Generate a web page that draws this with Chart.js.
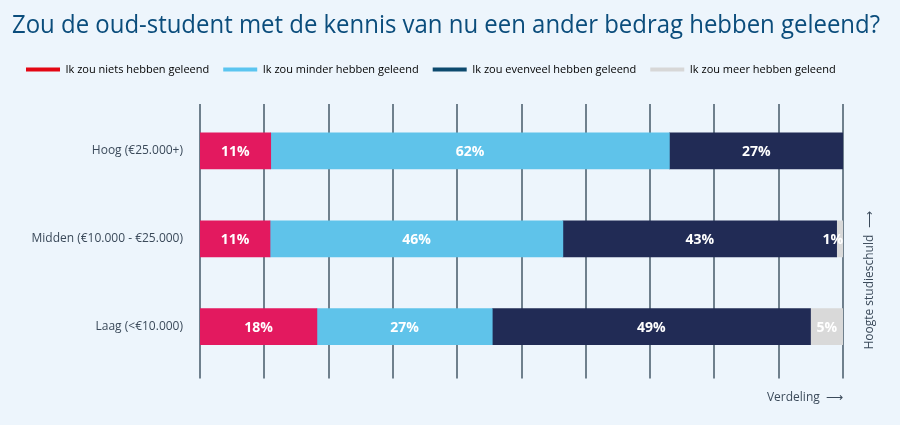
<!DOCTYPE html>
<html>
<head>
<meta charset="utf-8">
<script src="https://cdn.jsdelivr.net/npm/chart.js@4"></script>
<style>
  body { margin: 0; background: #edf5fc; }
  canvas { display: block; }
</style>
</head>
<body>
<canvas id="myChart" width="900" height="425"></canvas>
<script>

var categories = ["Hoog (€25.000+)", "Midden (€10.000 - €25.000)", "Laag (<€10.000)"];
var seriesNames = ["Ik zou niets hebben geleend", "Ik zou minder hebben geleend", "Ik zou evenveel hebben geleend", "Ik zou meer hebben geleend"];
var niets = [11, 11, 18];
var minder = [62, 46, 27];
var evenveel = [27, 43, 49];
var meer = [0, 1, 5];

var barColors = ["#e3195f", "#5fc3ea", "#212b55", "#d9d9d9"];
var legendColors = ["#e30613", "#5bc5f0", "#0d4a6e", "#d7d7d7"];

var series = [niets, minder, evenveel, meer];

// each row is scaled to fill the full bar
var totals = categories.map(function(c, i){
  return series.reduce(function(s, arr){ return s + arr[i] }, 0)
})

var datasets = series.map(function(arr, k){
  return {
    label: seriesNames[k],
    backgroundColor: barColors[k],
    borderWidth: 0,
    barThickness: 36,
    raw: arr,
    data: arr.map(function(v, i){ return v / totals[i] * 100 })
  }
})

var gridLines = {
  id: 'gridLines',
  beforeDatasetsDraw: function(chart){
    var ctx = chart.ctx, x = chart.scales.x, a = chart.chartArea
    ctx.save()
    ctx.strokeStyle = '#6f808d'
    ctx.lineWidth = 2
    x.ticks.forEach(function(t){
      var px = Math.round(x.getPixelForValue(t.value))
      ctx.beginPath()
      ctx.moveTo(px, a.top - 3)
      ctx.lineTo(px, a.bottom + 8)
      ctx.stroke()
    })
    ctx.restore()
  }
}

var barLabels = {
  id: 'barLabels',
  afterDatasetsDraw: function(chart){
    var ctx = chart.ctx, a = chart.chartArea
    ctx.save()
    ctx.font = 'bold 14px "Open Sans", sans-serif'
    ctx.fillStyle = '#ffffff'
    ctx.textAlign = 'center'
    ctx.textBaseline = 'middle'
    chart.data.datasets.forEach(function(ds, k){
      chart.getDatasetMeta(k).data.forEach(function(el, i){
        var v = ds.raw[i]
        if (!v) return
        var txt = v + '%'
        var w = ctx.measureText(txt).width
        var cx = (el.x + el.base) / 2
        cx = Math.min(cx, a.right - w / 2)
        ctx.fillText(txt, cx, el.y + 1)
      })
    })
    ctx.restore()
  }
}

var sideTitle = {
  id: 'sideTitle',
  afterDraw: function(chart){
    var ctx = chart.ctx, a = chart.chartArea
    ctx.save()
    ctx.translate(a.right + 27, a.bottom - 21)
    ctx.rotate(-Math.PI / 2)
    ctx.font = '12px "Open Sans", sans-serif'
    ctx.fillStyle = '#3b4a5a'
    ctx.textAlign = 'left'
    ctx.textBaseline = 'middle'
    ctx.fillText('Hoogte studieschuld  ⟶', 0, 0)
    ctx.restore()
  }
}

var legendGap = {
  id: 'legendGap',
  beforeInit: function(chart){
    var fit = chart.legend.fit
    chart.legend.fit = function(){
      fit.bind(chart.legend)()
      this.height += 22
    }
  }
}

new Chart("myChart", {
  type: "bar",
  data: {
    labels: categories,
    datasets: datasets
  },
  plugins: [gridLines, barLabels, sideTitle, legendGap],
  options: {
    indexAxis: 'y',
    responsive: false,
    animation: false,
    layout: { padding: { left: 12, right: 20, top: 0, bottom: 16 } },
    scales: {
      x: {
        stacked: true,
        min: 0,
        max: 100,
        ticks: { display: false, stepSize: 10 },
        grid: { display: false, drawTicks: false },
        border: { display: false },
        title: {
          display: true,
          text: 'Verdeling  ⟶',
          align: 'end',
          color: '#3b4a5a',
          font: { family: '"Open Sans", sans-serif', size: 12 },
          padding: { top: 20, bottom: 4 }
        }
      },
      y: {
        stacked: true,
        grid: { display: false, drawTicks: false },
        border: { display: false },
        ticks: {
          color: '#3b4a5a',
          padding: 17,
          font: { family: '"Open Sans", sans-serif', size: 12 }
        },
        afterFit: function(scale){ scale.width = 188 }
      },
      y2: {
        type: 'category',
        position: 'right',
        grid: { display: false, drawTicks: false },
        border: { display: false },
        ticks: { display: false },
        afterFit: function(scale){ scale.width = 37 }
      }
    },
    plugins: {
      tooltip: { enabled: false },
      title: {
        display: true,
        text: 'Zou de oud-student met de kennis van nu een ander bedrag hebben geleend?',
        align: 'start',
        color: '#0b4d7c',
        font: { family: '"Open Sans", sans-serif', size: 25, weight: 'normal' },
        padding: { top: 11, bottom: 9 }
      },
      legend: {
        align: 'start',
        labels: {
          boxWidth: 34,
          boxHeight: 4,
          padding: 14,
          color: '#3b4a5a',
          font: { family: '"Open Sans", sans-serif', size: 11 },
          generateLabels: function(chart){
            return chart.data.datasets.map(function(ds, k){
              return { text: ds.label, fillStyle: legendColors[k], strokeStyle: legendColors[k], lineWidth: 0, datasetIndex: k }
            })
          }
        }
      }
    }
  }
});

</script>
</body>
</html>
